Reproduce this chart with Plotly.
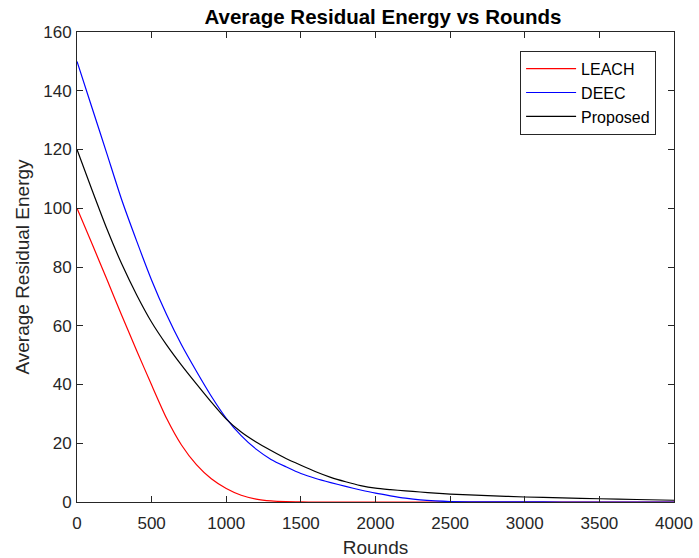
import plotly.graph_objects as go

# Simulation rounds at which residual energy was sampled
rounds = [0, 100, 200, 300, 400, 500, 600, 700, 800, 900, 1000,
          1100, 1200, 1300, 1400, 1500, 1600, 1700, 1800, 1900, 2000,
          2100, 2200, 2300, 2400, 2500, 2750, 3000, 3250, 3500, 3750, 4000]

# Average residual energy per protocol
leach = [100, 88, 75.8, 63.5, 51.5, 39.8, 28.5, 19.4, 12.7, 7.9, 4.6,
         2.3, 1.0, 0.35, 0.1, 0.02, 0, 0, 0, 0, 0,
         0, 0, 0, 0, 0, 0, 0, 0, 0, 0, 0]
deec = [150, 134.3, 118.6, 102.8, 88.8, 75.5, 63.8, 53.5, 44.5, 36.0, 28.5,
        22.6, 18.0, 14.5, 12.0, 9.7, 8.0, 6.6, 5.3, 4.1, 3.0,
        2.1, 1.3, 0.7, 0.35, 0.15, 0.05, 0.02, 0, 0, 0, 0]
proposed = [120, 106.3, 93.0, 81.0, 70.5, 61.2, 53.5, 46.6, 40.2, 34.0, 28.2,
            23.8, 20.4, 17.5, 14.8, 12.5, 10.3, 8.4, 6.9, 5.6, 4.7,
            4.2, 3.8, 3.4, 3.0, 2.7, 2.2, 1.7, 1.4, 1.1, 0.85, 0.6]

x_ticks = [0, 500, 1000, 1500, 2000, 2500, 3000, 3500, 4000]
y_ticks = [0, 20, 40, 60, 80, 100, 120, 140, 160]

FONT = "Liberation Sans, Arial, Helvetica, sans-serif"
AXIS_COLOR = "#262626"

fig = go.Figure()
for name, values, color in [("LEACH", leach, "#FF0000"),
                            ("DEEC", deec, "#0000FF"),
                            ("Proposed", proposed, "#000000")]:
    fig.add_trace(go.Scatter(x=rounds, y=values, mode="lines", name=name,
                             line=dict(color=color, width=1.2,
                                       shape="spline", smoothing=0.6)))

axis_common = dict(
    showline=True, linecolor=AXIS_COLOR, linewidth=1, mirror="ticks",
    ticks="inside", ticklen=6, tickwidth=1, tickcolor=AXIS_COLOR,
    showgrid=False, zeroline=False, automargin=False,
    tickfont=dict(family=FONT, size=17, color=AXIS_COLOR),
)

fig.update_layout(
    width=699, height=558,
    margin=dict(l=77, r=25, t=32, b=56),
    paper_bgcolor="white", plot_bgcolor="white",
    font=dict(family=FONT, color=AXIS_COLOR),
    title=dict(text="<b>Average Residual Energy vs Rounds</b>",
               font=dict(family=FONT, size=20.5, color="#000000"),
               x=383 / 699, xanchor="center", y=1 - 17 / 558, yanchor="middle"),
    xaxis=dict(range=[0, 4000], tickvals=x_ticks, ticklabelstandoff=6,
               title=dict(text="Rounds", standoff=8,
                          font=dict(family=FONT, size=19, color=AXIS_COLOR)),
               **axis_common),
    yaxis=dict(range=[0, 160], tickvals=y_ticks, ticklabelstandoff=1,
               title=dict(text="Average Residual Energy", standoff=8,
                          font=dict(family=FONT, size=19, color=AXIS_COLOR)),
               **axis_common),
    legend=dict(x=0.97, y=0.96, xanchor="right", yanchor="top",
                bgcolor="white", bordercolor=AXIS_COLOR, borderwidth=1,
                font=dict(family=FONT, size=16, color="#000000"),
                tracegroupgap=0, itemwidth=50),
    showlegend=True,
)

fig.write_html("out.html")
